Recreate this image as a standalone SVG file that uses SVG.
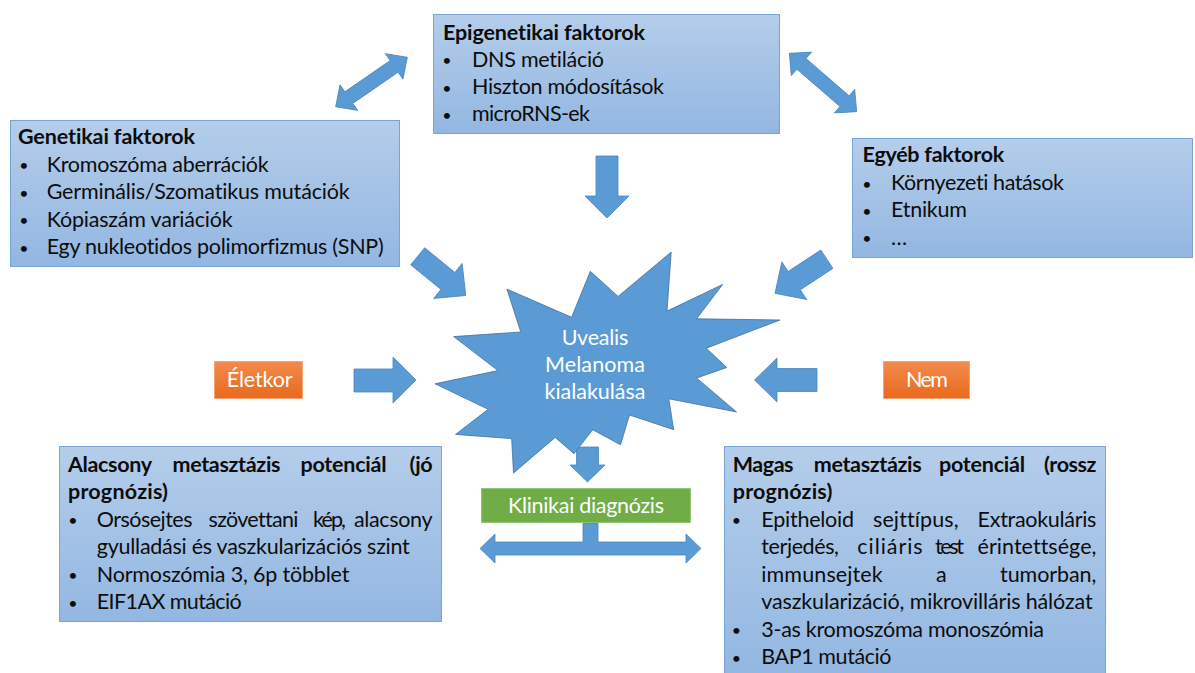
<svg xmlns="http://www.w3.org/2000/svg" width="1195" height="673" viewBox="0 0 1195 673">
<defs>
<linearGradient id="gBlue" x1="0" y1="0" x2="0" y2="1">
<stop offset="0" stop-color="#b4cdea"/>
<stop offset="1" stop-color="#93b7e2"/>
</linearGradient>
<linearGradient id="gOrange" x1="0" y1="0" x2="0" y2="1">
<stop offset="0" stop-color="#f38b4d"/>
<stop offset="1" stop-color="#e8691c"/>
</linearGradient>
</defs>
<style>
.box{fill:url(#gBlue);stroke:#76a5da;stroke-width:1}
.org{fill:url(#gOrange);stroke:#f0a070;stroke-width:0.8}
.grn{fill:#70ad47;stroke:#8cc06a;stroke-width:0.8}
.arr{fill:#5b9bd5;stroke:#4a86c0;stroke-width:0.8}
.star{fill:#5b9bd5;stroke:#41719c;stroke-width:0.8}
text{font-family:Lato,"Liberation Sans",sans-serif;font-size:21.5px;fill:#0d0d0d;font-variant-ligatures:none;font-feature-settings:"liga" 0,"clig" 0}
.b{font-weight:bold}
.w{fill:#ffffff}
.bu{text-anchor:middle;font-size:16px}
.c{text-anchor:middle}
</style>

<g id="connectors">
<path class="arr" transform="translate(371.5,82) rotate(-34.6)" d="M-43.5,0 L-27.5,-15.5 V-7 H27.5 V-15.5 L43.5,0 L27.5,15.5 V7 H-27.5 V15.5 Z"/>
<path class="arr" transform="translate(823,82.5) rotate(40.9)" d="M-44.5,0 L-28.5,-15.5 V-7 H28.5 V-15.5 L44.5,0 L28.5,15.5 V7 H-28.5 V15.5 Z"/>
<path class="arr" d="M596,156 H618 V196 H629 L607,218 L585,196 H596 Z"/>
<path class="arr" transform="translate(417.7,256.3) rotate(39.2)" d="M0,-11 H39 V-22.5 L62,0 L39,22.5 V11 H0 Z"/>
<path class="arr" transform="translate(826.8,259.2) rotate(146.6)" d="M0,-11 H39 V-22.5 L62,0 L39,22.5 V11 H0 Z"/>
<path class="arr" d="M354,369 H393 V357 L416,380 L393,403 V392 H354 Z"/>
<path class="arr" d="M817,368.5 H777 V358 L754.5,380 L777,402 V391.5 H817 Z"/>
<path class="arr" d="M576.5,447 H598.5 V465 H605 L587.5,482 L570,465 H576.5 Z"/>
<path class="arr" d="M480,548.5 L495,534 V542 H583 V523 H598 V542 H686 V534 L701,548.5 L686,563 V555 H495 V563 Z"/>
</g>

<g id="node-epigenetikai">
<rect class="box" x="433.5" y="14.5" width="346" height="119"/>
<text class="b" x="443" y="39.5" textLength="202">Epigenetikai faktorok</text>
<text class="bu" x="447" y="66">•</text>
<text x="472" y="66.5" textLength="132">DNS metiláció</text>
<text class="bu" x="447" y="93.5">•</text>
<text x="472" y="94" textLength="192">Hiszton módosítások</text>
<text class="bu" x="447" y="120.5">•</text>
<text x="472" y="121" textLength="118">microRNS-ek</text>
</g>

<g id="node-genetikai">
<rect class="box" x="10.5" y="120.5" width="389" height="146"/>
<text class="b" x="18" y="144" textLength="177">Genetikai faktorok</text>
<text class="bu" x="24" y="171">•</text>
<text x="46.7" y="171.5" textLength="222">Kromoszóma aberrációk</text>
<text class="bu" x="24" y="198.5">•</text>
<text x="46.7" y="199" textLength="303">Germinális/Szomatikus mutációk</text>
<text class="bu" x="24" y="226">•</text>
<text x="46.7" y="226.5" textLength="186">Kópiaszám variációk</text>
<text class="bu" x="24" y="253.5">•</text>
<text x="46.7" y="254" textLength="337">Egy nukleotidos polimorfizmus (SNP)</text>
</g>

<g id="node-egyeb">
<rect class="box" x="852.5" y="138.5" width="340" height="119"/>
<text class="b" x="862.6" y="162" textLength="141.6">Egyéb faktorok</text>
<text class="bu" x="867" y="189.5">•</text>
<text x="891" y="190" textLength="173">Környezeti hatások</text>
<text class="bu" x="867" y="216.5">•</text>
<text x="891" y="217" textLength="76">Etnikum</text>
<text class="bu" x="867" y="244">•</text>
<text x="891" y="244.5" textLength="14.5">…</text>
</g>

<g id="node-melanoma">
<polygon class="star" points="618.1,296.4 671.2,252 667,311.1 722.6,284.5 696.6,318.8 780,320 706.3,348.2 726.8,367.5 696.6,378 736.5,411.9 668.8,398.8 673.7,429.7 629.5,415 620.5,444.8 592.7,429.7 574,453.7 555.2,437.4 513.5,473 511.7,438.6 455.5,434.4 488.2,409.3 435,383.8 497.9,370.6 453.7,336.6 520.8,332 506.9,289.1 571.6,317.3 590.3,271.3"/>
<text class="w c" x="595" y="345" textLength="66.7">Uvealis</text>
<text class="w c" x="595" y="372" textLength="100">Melanoma</text>
<text class="w c" x="595" y="399" textLength="101">kialakulása</text>
</g>

<g id="node-eletkor">
<rect class="org" x="214.5" y="361.5" width="88" height="37"/>
<text class="w c" x="259.7" y="387" textLength="66">Életkor</text>
</g>

<g id="node-nem">
<rect class="org" x="883.5" y="361.5" width="86" height="37"/>
<text class="w c" x="927" y="387" textLength="42">Nem</text>
</g>

<g id="node-klinikai">
<rect class="grn" x="481.5" y="488.5" width="209" height="34"/>
<text class="w c" x="586" y="512.5" textLength="156">Klinikai diagnózis</text>
</g>

<g id="node-alacsony">
<rect class="box" x="59.5" y="446.5" width="382" height="175"/>
<text class="b" x="68" y="471.5" textLength="84">Alacsony</text>
<text class="b" x="172.5" y="471.5" textLength="108">metasztázis</text>
<text class="b" x="300.5" y="471.5" textLength="86">potenciál</text>
<text class="b" x="409.5" y="471.5" textLength="23">(jó</text>
<text class="b" x="68" y="499" textLength="100">prognózis)</text>
<text class="bu" x="73" y="526">•</text>
<text x="96.8" y="526.5" textLength="95.7">Orsósejtes</text>
<text x="208.6" y="526.5" textLength="89.9">szövettani</text>
<text x="313" y="526.5" textLength="33">kép,</text>
<text x="354" y="526.5" textLength="78.5">alacsony</text>
<text x="96.8" y="554" textLength="313">gyulladási és vaszkularizációs szint</text>
<text class="bu" x="73" y="581">•</text>
<text x="96.8" y="581.5" textLength="252.6">Normoszómia 3, 6p többlet</text>
<text class="bu" x="73" y="608.5">•</text>
<text x="96.8" y="609" textLength="145">EIF1AX mutáció</text>
</g>

<g id="node-magas">
<rect class="box" x="724.5" y="446.5" width="381" height="232"/>
<text class="b" x="732.8" y="471.5" textLength="60.7">Magas</text>
<text class="b" x="813.7" y="471.5" textLength="108">metasztázis</text>
<text class="b" x="939" y="471.5" textLength="86">potenciál</text>
<text class="b" x="1044" y="471.5" textLength="52.4">(rossz</text>
<text class="b" x="732.8" y="499" textLength="99.5">prognózis)</text>
<text class="bu" x="736.5" y="526">•</text>
<text x="761.3" y="526.5" textLength="92.7">Epitheloid</text>
<text x="873" y="526.5" textLength="85.6">sejttípus,</text>
<text x="977.6" y="526.5" textLength="118.8">Extraokuláris</text>
<text x="761.3" y="554" textLength="77.7">terjedés,</text>
<text x="857.3" y="554" textLength="65.3">ciliáris</text>
<text x="935" y="554" textLength="29">test</text>
<text x="977.6" y="554" textLength="118.8">érintettsége,</text>
<text x="761.3" y="581.5" textLength="121.4">immunsejtek</text>
<text x="936" y="581.5" textLength="9">a</text>
<text x="1000" y="581.5" textLength="96.4">tumorban,</text>
<text x="761.3" y="609" textLength="331.3">vaszkularizáció, mikrovilláris hálózat</text>
<text class="bu" x="736.5" y="636">•</text>
<text x="761.3" y="636.5" textLength="282.7">3-as kromoszóma monoszómia</text>
<text class="bu" x="736.5" y="663.5">•</text>
<text x="761.3" y="664" textLength="130.2">BAP1 mutáció</text>
</g>
</svg>
